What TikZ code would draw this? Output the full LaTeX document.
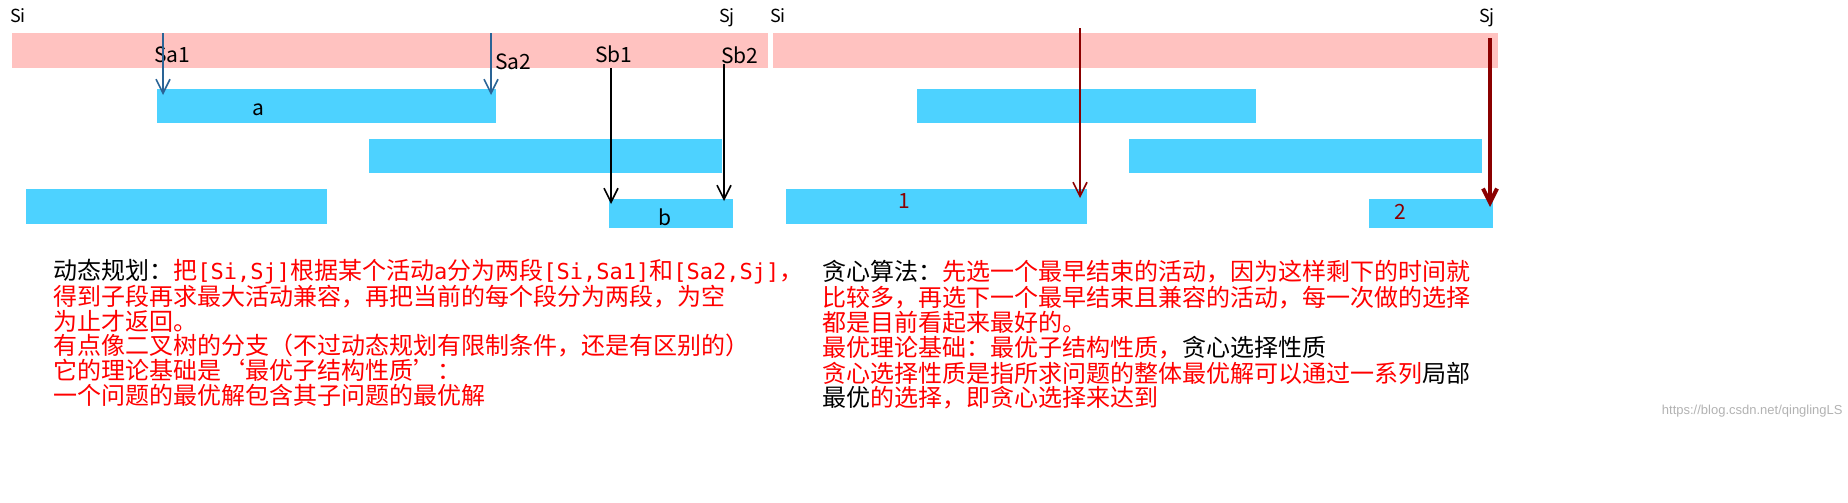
\documentclass[tikz,border=0pt]{standalone}
\usepackage{fontspec}
\setmainfont{Liberation Sans}
\newfontfamily\cjk{Noto Sans CJK SC}
\newfontfamily\mono{DejaVu Sans Mono}
\usetikzlibrary{arrows.meta}
\definecolor{pinkbar}{HTML}{FFC2C0}
\definecolor{bluebar}{HTML}{4DD2FF}
\definecolor{arrblue}{HTML}{2A6496}
\definecolor{darkred}{HTML}{8B0000}
\newcommand{\mt}[1]{{\mono\fontsize{11}{12}\selectfont #1}}
\begin{document}
\begin{tikzpicture}[x=0.5pt,y=-0.5pt,
  pinkbox/.style={fill=pinkbar,draw=none},
  bluebox/.style={fill=bluebar,draw=none},
  lbl/.style={font=\cjk\fontsize{9}{10}\selectfont,inner sep=0pt},
  big/.style={font=\cjk\fontsize{10.5}{12}\selectfont},
  txt/.style={font=\cjk\fontsize{12}{14}\selectfont,anchor=west,inner sep=0pt,text=red},
  barb/.style={-{Straight Barb[length=7pt,width=7pt]}}]
\useasboundingbox (0,0) rectangle (1848,503);
% left
\fill[pinkbox] (12,33) rectangle (768,68);
\fill[bluebox] (157,89) rectangle (496,123);
\fill[bluebox] (369,139) rectangle (722,173);
\fill[bluebox] (26,189) rectangle (327,224);
\fill[bluebox] (609,199) rectangle (733,228);
\node[lbl] (si1) at (18,16) {Si};
\node[lbl] (sj1) at (727,18) {Sj};
\node[lbl,big] (sa1) at (172,55) {Sa1};
\node[lbl,big] (sa2) at (513,62) {Sa2};
\node[lbl,big] (sb1) at (614,54) {Sb1};
\node[lbl,big] (sb2) at (740,55) {Sb2};
\node[lbl,big] (la) at (258,110) {a};
\node[lbl,big] (lb) at (665,217) {b};
\coordinate (a1s) at (163,33); \coordinate (a1e) at (163,95);
\coordinate (a2s) at (491,33); \coordinate (a2e) at (491,95);
\coordinate (b1s) at (611,68); \coordinate (b1e) at (611,204);
\coordinate (b2s) at (724,64); \coordinate (b2e) at (724,201);
\draw[barb,arrblue,thick] (a1s) -- (a1e);
\draw[barb,arrblue,thick] (a2s) -- (a2e);
\draw[barb,black,thick] (b1s) -- (b1e);
\draw[barb,black,thick] (b2s) -- (b2e);
% right
\fill[pinkbox] (773,33) rectangle (1498,68);
\fill[bluebox] (917,89) rectangle (1256,123);
\fill[bluebox] (1129,139) rectangle (1482,173);
\fill[bluebox] (786,189) rectangle (1087,224);
\fill[bluebox] (1369,199) rectangle (1493,228);
\node[lbl] (si2) at (778,16) {Si};
\node[lbl] (sj2) at (1487,18) {Sj};
\node[lbl,big,text=darkred] (l1) at (904,201) {1};
\node[lbl,big,text=darkred] (l2) at (1400,212) {2};
\coordinate (r1s) at (1080,28); \coordinate (r1e) at (1080,198);
\coordinate (r2s) at (1490,38); \coordinate (r2e) at (1490,207);
\draw[barb,darkred,thick] (r1s) -- (r1e);
\draw[barb,darkred,line width=2pt] (r2s) -- (r2e);
% left text
\node[txt] (t1) at (53,272) {\textcolor{black}{动态规划：}把\mt{[Si,Sj]}根据某个活动\mt{a}分为两段\mt{[Si,Sa1]}和\mt{[Sa2,Sj]}，};
\node[txt] (t2) at (53,297) {得到子段再求最大活动兼容，再把当前的每个段分为两段，为空};
\node[txt] (t3) at (53,321) {为止才返回。};
\node[txt] (t4) at (53,346) {有点像二叉树的分支（不过动态规划有限制条件，还是有区别的）};
\node[txt] (t5) at (53,370) {它的理论基础是‘最优子结构性质’：};
\node[txt] (t6) at (53,395) {一个问题的最优解包含其子问题的最优解};
% right text
\node[txt] (u1) at (822,272) {\textcolor{black}{贪心算法：}先选一个最早结束的活动，因为这样剩下的时间就};
\node[txt] (u2) at (822,298) {比较多，再选下一个最早结束且兼容的活动，每一次做的选择};
\node[txt] (u3) at (822,322) {都是目前看起来最好的。};
\node[txt] (u4) at (822,348) {最优理论基础：最优子结构性质，\textcolor{black}{贪心选择性质}};
\node[txt] (u5) at (822,373) {贪心选择性质是指所求问题的整体最优解可以通过一系列\textcolor{black}{局部}};
\node[txt] (u6) at (822,398) {\textcolor{black}{最优}的选择，即贪心选择来达到};
\node[font=\fontsize{6.5}{7}\selectfont,text=gray!60,anchor=east,inner sep=0pt] (wm) at (1843,411) {https://blog.csdn.net/qinglingLS};
\end{tikzpicture}
\end{document}
